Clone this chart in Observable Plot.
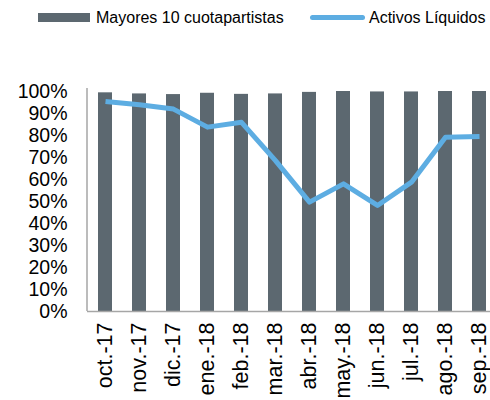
<!DOCTYPE html>
<html><head><meta charset="utf-8">
<script src="https://cdn.jsdelivr.net/npm/d3@7"></script>
<script src="https://cdn.jsdelivr.net/npm/@observablehq/plot@0.6"></script>
<style>
body{margin:0;background:#fff;font-family:"Liberation Sans",Arial,sans-serif}
#legend{position:relative;width:490px;height:35px;font-size:16px;line-height:16px;color:#000}
#legend .sw{position:absolute}
#legend .tx{position:absolute;top:9.5px;white-space:nowrap}
</style></head><body>
<div id="legend"></div>
<div id="chart"></div>
<script>
const months = ["oct.-17","nov.-17","dic.-17","ene.-18","feb.-18","mar.-18","abr.-18","may.-18","jun.-18","jul.-18","ago.-18","sep.-18"];
const mayores = [0.994,0.989,0.986,0.992,0.987,0.989,0.996,1.0,0.998,0.998,1.0,1.0];
const activos = [0.955,0.94,0.92,0.838,0.86,0.686,0.497,0.58,0.482,0.588,0.792,0.795];
const yTicks = [0,0.1,0.2,0.3,0.4,0.5,0.6,0.7,0.8,0.9,1.0];
const seriesNames = ["Mayores 10 cuotapartistas","Activos Líquidos"];
const barColor = "#5c6870";
const lineColor = "#5dade2";

const legend = document.getElementById("legend");
legend.innerHTML =
  `<div class="sw" style="left:38px;top:13px;width:52px;height:9px;background:${barColor}"></div>` +
  `<div class="tx" style="left:96px">${seriesNames[0]}</div>` +
  `<div class="sw" style="left:310px;top:15px;width:55px;height:4.5px;border-radius:2.5px;background:${lineColor}"></div>` +
  `<div class="tx" style="left:369px">${seriesNames[1]}</div>`;

const data = months.map((m, i) => ({m, mayores: mayores[i], activos: activos[i]}));

const chart = Plot.plot({
  width: 490, height: 365,
  marginTop: 56, marginBottom: 89, marginLeft: 87, marginRight: 0,
  style: {fontFamily: "'Liberation Sans', Arial, sans-serif", color: "#000", background: "#fff", overflow: "visible"},
  x: {domain: months, range: [87, 497], paddingInner: 0.59, paddingOuter: 0.295, align: 0.5, label: null},
  y: {domain: [0, 1], label: null},
  marks: [
    Plot.barY(data, {x: "m", y: "mayores", fill: barColor}),
    Plot.ruleY([0], {stroke: "#a6a6a6", strokeWidth: 1.5}),
    (index, scales, values, dims) => {
      const ns = "http://www.w3.org/2000/svg";
      const l = document.createElementNS(ns, "line");
      l.setAttribute("x1", dims.marginLeft); l.setAttribute("x2", dims.marginLeft);
      l.setAttribute("y1", dims.marginTop - 3); l.setAttribute("y2", dims.height - dims.marginBottom);
      l.setAttribute("stroke", "#a6a6a6"); l.setAttribute("stroke-width", 1.5);
      return l;
    },
    Plot.line(data, {x: "m", y: "activos", stroke: lineColor, strokeWidth: 5, strokeLinejoin: "round", strokeLinecap: "butt"}),
    Plot.axisY({ticks: yTicks, tickFormat: d3.format(".0%"), tickSize: 0, tickPadding: 20, fontSize: 19.5, label: null}),
    Plot.axisX({tickRotate: -90, tickSize: 0, tickPadding: 11, fontSize: 21.5, label: null})
  ]
});
document.getElementById("chart").appendChild(chart);
</script>
</body></html>
